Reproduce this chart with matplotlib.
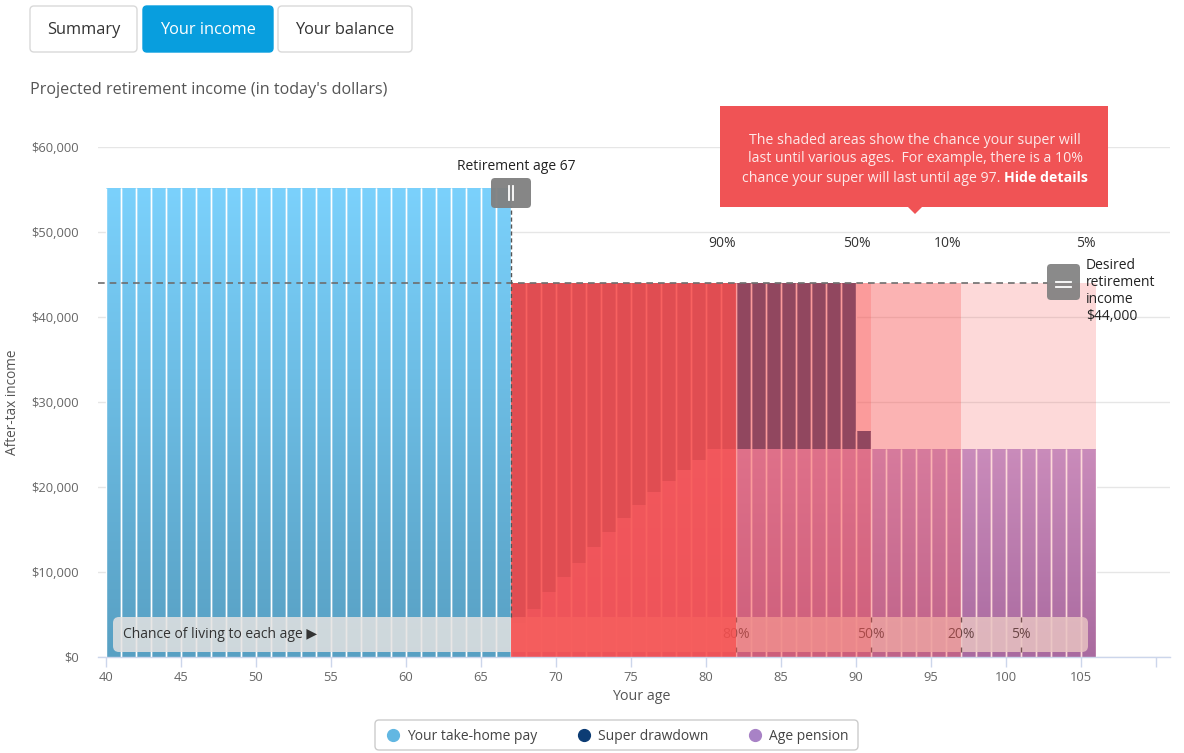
import numpy as np
import matplotlib
matplotlib.use("Agg")
import matplotlib.pyplot as plt
from matplotlib.patches import FancyBboxPatch, Polygon
from matplotlib.lines import Line2D
from matplotlib.path import Path
from matplotlib.colors import LinearSegmentedColormap
from matplotlib.ticker import FuncFormatter
from matplotlib.transforms import Affine2D

plt.rcParams['font.family'] = ['Open Sans', 'DejaVu Sans']

# ---------------- data ----------------
work_ages = [40, 41, 42, 43, 44, 45, 46, 47, 48, 49, 50, 51, 52, 53, 54, 55, 56,
             57, 58, 59, 60, 61, 62, 63, 64, 65, 66]
take_home_pay = [55200, 55200, 55200, 55200, 55200, 55200, 55200, 55200, 55200,
                 55200, 55200, 55200, 55200, 55200, 55200, 55200, 55200, 55200,
                 55200, 55200, 55200, 55200, 55200, 55200, 55200, 55200, 55200]

retire_ages = [67, 68, 69, 70, 71, 72, 73, 74, 75, 76, 77, 78, 79, 80, 81, 82, 83,
               84, 85, 86, 87, 88, 89, 90, 91, 92, 93, 94, 95, 96, 97, 98, 99, 100,
               101, 102, 103, 104, 105]
age_pension = [4000, 5700, 7600, 9400, 11100, 13000, 14700, 16400, 17900, 19400,
               20700, 22000, 23200, 24500, 24500, 24500, 24500, 24500, 24500, 24500,
               24500, 24500, 24500, 24500, 24500, 24500, 24500, 24500, 24500, 24500,
               24500, 24500, 24500, 24500, 24500, 24500, 24500, 24500, 24500]
super_drawdown = [40000, 38300, 36400, 34600, 32900, 31000, 29300, 27600, 26100,
                  24600, 23300, 22000, 20800, 19500, 19500, 19500, 19500, 19500,
                  19500, 19500, 19500, 19500, 19500, 2100, 0, 0, 0, 0, 0, 0, 0, 0,
                  0, 0, 0, 0, 0, 0, 0]

desired_income = 44000
retirement_age = 67
zone_edges = [67, 82, 91, 97, 106]
zone_labels = ['90%', '50%', '10%', '5%']
survival_ages = [82, 91, 97, 101]
survival_labels = ['80%', '50%', '20%', '5%']
y_ticks = [0, 10000, 20000, 30000, 40000, 50000, 60000]
x_ticks = [40, 45, 50, 55, 60, 65, 70, 75, 80, 85, 90, 95, 100, 105, 110]
legend_labels = ['Your take-home pay', 'Super drawdown', 'Age pension']
tab_labels = ['Summary', 'Your income', 'Your balance']

# ---------------- styling ----------------
W, H = 1184, 753
fig = plt.figure(figsize=(W / 100, H / 100), dpi=100)
fig.patch.set_facecolor('white')
pxT = Affine2D().scale(1, -1).translate(0, H)   # pixel coords from top-left


def fx(x):
    return x / W


def fy(y):
    return 1 - y / H


ax_l, ax_r, ax_t, ax_b = 98, 1170, 147, 657
ax = fig.add_axes([fx(ax_l), fy(ax_b), (ax_r - ax_l) / W, (ax_b - ax_t) / H])
XMIN = 40 - 8 / 15
XMAX = 40 + (ax_r - 106) / 15
ax.set_xlim(XMIN, XMAX)
ax.set_ylim(0, 60000)


def yd(py):
    return (ax_b - py) * 60000 / (ax_b - ax_t)


blue_c = '#62b7e2'
navy_c = '#0c3c74'
purple_c = '#a882c6'
red_ov = (248 / 255, 80 / 255, 79 / 255)

cm_blue = LinearSegmentedColormap.from_list('b', ['#58a0c3', '#7bd1fc'])
cm_purp = LinearSegmentedColormap.from_list('p', ['#9572b6', '#be9cd8'])

bars_pay = ax.bar(work_ages, take_home_pay, width=1, align='edge', color=blue_c,
                  lw=0, zorder=2)
bars_pen = ax.bar(retire_ages, age_pension, width=1, align='edge', color=purple_c,
                  lw=0, zorder=2)
bars_sd = ax.bar(retire_ages, super_drawdown, width=1, align='edge',
                 bottom=age_pension, color=navy_c, lw=0, zorder=2.1)


def gradient(bars, cmap, top):
    paths = [p.get_path().transformed(p.get_patch_transform()) for p in bars]
    cp = Path.make_compound_path(*paths)
    img = np.linspace(0, 1, 256).reshape(-1, 1)
    im = ax.imshow(img, extent=[XMIN, XMAX, 0, top], origin='lower', cmap=cmap,
                   aspect='auto', zorder=2.05, interpolation='bilinear')
    im.set_clip_path(cp, ax.transData)


gradient(bars_pay, cm_blue, max(take_home_pay))
gradient(bars_pen, cm_purp, max(age_pension))
ax.set_xlim(XMIN, XMAX)
ax.set_ylim(0, 60000)

# white separators between bars
for p_list in (bars_pay, bars_sd):
    for p in p_list:
        x0 = p.get_x()
        top = p.get_y() + p.get_height()
        ax.vlines([x0, x0 + p.get_width()], 0, top, color='white', lw=1.0,
                  zorder=2.4)

# chance-of-living box (under overlays)
box = FancyBboxPatch((113, 617), 975, 35, boxstyle='round,pad=0,rounding_size=6',
                     transform=pxT, facecolor=(0.895, 0.887, 0.882), alpha=0.85,
                     edgecolor='none', zorder=2.6)
ax.add_patch(box)
ax.text(40 + (123 - 106) / 15, yd(634), 'Chance of living to each age \u25B6',
        fontsize=10, color='#333333', va='center', ha='left', zorder=2.7,
        family=['Open Sans', 'DejaVu Sans'])
for a, lab in zip(survival_ages, survival_labels):
    ax.text(a, yd(634), lab, fontsize=10, color='#444444', ha='center',
            va='center', zorder=2.7)
    ax.vlines(a, yd(622), yd(617), color='#555555', lw=1, zorder=2.7)
    ax.vlines(a, yd(652), yd(647), color='#555555', lw=1, zorder=2.7)

# probability overlays
zone_alpha = [0.9, 0.57, 0.43, 0.21]
for i, lab in enumerate(zone_labels):
    x0, x1 = zone_edges[i], zone_edges[i + 1]
    ax.fill_between([x0, x1], 0, desired_income, color=red_ov,
                    alpha=zone_alpha[i], lw=0, zorder=3)
    ax.text(x1, yd(244), lab, fontsize=10, color='#333333', ha='right',
            va='center', zorder=5)

# reference lines
ax.axhline(desired_income, xmin=0, xmax=(1048 - ax_l) / (ax_r - ax_l),
           color='#6e6e6e', lw=1.2, ls=(0, (4, 3)), zorder=3.5)
ax.axvline(retirement_age, ymin=yd(617) / 60000, ymax=yd(206) / 60000,
           color='#555555', lw=1.0, ls=(0, (3, 2)), zorder=3.5)

# axes styling
for s in ('top', 'right', 'left'):
    ax.spines[s].set_visible(False)
ax.spines['bottom'].set_color('#ccd6eb')
ax.spines['bottom'].set_linewidth(1)
ax.spines['bottom'].set_zorder(3.6)
ax.set_xticks(x_ticks)
ax.set_xticklabels([str(t) if t <= 105 else '' for t in x_ticks])
ax.tick_params(axis='x', colors='#ccd6eb', length=7, width=1, pad=3,
               labelcolor='#666666', labelsize=9.3)
ax.set_yticks(y_ticks)
ax.yaxis.set_major_formatter(FuncFormatter(lambda v, p: '${:,.0f}'.format(v)))
ax.tick_params(axis='y', length=0, pad=14, labelcolor='#666666', labelsize=9.3)
ax.yaxis.grid(True, color='#e6e6e6', lw=1)
ax.set_axisbelow(True)

fig.text(fx(641), fy(696), 'Your age', fontsize=10.3, color='#555555',
         ha='center', va='center')
fig.text(fx(13), fy(402), 'After-tax income', fontsize=9.8, color='#555555',
         ha='center', va='center', rotation=90)

# retirement handle
fig.text(fx(516), fy(166), 'Retirement age 67', fontsize=10, color='#222222',
         ha='center', va='center')
fig.add_artist(FancyBboxPatch((491, 178), 40, 30,
                              boxstyle='round,pad=0,rounding_size=4',
                              transform=pxT, facecolor='#808080', alpha=0.95,
                              edgecolor='none', zorder=6))
for xx in (509, 513):
    fig.add_artist(Line2D([xx, xx], [186, 200], transform=pxT, color='white',
                          lw=1.3, zorder=7))

# desired handle
fig.add_artist(FancyBboxPatch((1047, 264), 33, 36,
                              boxstyle='round,pad=0,rounding_size=4',
                              transform=pxT, facecolor='#808080', alpha=0.92,
                              edgecolor='none', zorder=6))
for yy in (282, 287):
    fig.add_artist(Line2D([1056, 1071], [yy, yy], transform=pxT, color='white',
                          lw=1.3, zorder=7))
fig.text(fx(1086), fy(258), 'Desired\nretirement\nincome\n$44,000', fontsize=10,
         color='#222222', ha='left', va='top', linespacing=1.18, zorder=7)

# tooltip
tip_c = '#f05355'
fig.add_artist(Polygon([(720, 106), (1108, 106), (1108, 207), (922, 207),
                        (915, 214), (908, 207), (720, 207)], closed=True,
                       transform=pxT, facecolor=tip_c, edgecolor='none', zorder=8))
tcol = '#fde9e9'
tfs = 10.2
fig.text(fx(915), fy(140), 'The shaded areas show the chance your super will',
         fontsize=tfs, color=tcol, ha='center', va='center', zorder=9)
fig.text(fx(915), fy(159), 'last until various ages.  For example, there is a 10%',
         fontsize=tfs, color=tcol, ha='center', va='center', zorder=9)
t1 = fig.text(0, fy(178), 'chance your super will last until age 97. ',
              fontsize=tfs, color=tcol, ha='left', va='center', zorder=9)
t2 = fig.text(0, fy(178), 'Hide details', fontsize=tfs, color='white',
              fontweight='bold', ha='left', va='center', zorder=9)
r = fig.canvas.get_renderer()
w1 = t1.get_window_extent(r).width
w2 = t2.get_window_extent(r).width
start = 915 - (w1 + w2) / 2
t1.set_x(fx(start))
t2.set_x(fx(start + w1))

# tabs
tabs = [(30, 137), (143, 273), (278, 412)]
for (x0, x1), lab in zip(tabs, tab_labels):
    active = lab == 'Your income'
    fig.add_artist(FancyBboxPatch((x0, 6), x1 - x0, 46,
                                  boxstyle='round,pad=0,rounding_size=4',
                                  transform=pxT,
                                  facecolor='#089ede' if active else 'white',
                                  edgecolor='#089ede' if active else '#d9d9d9',
                                  lw=1))
    fig.text(fx((x0 + x1) / 2), fy(30.5), lab, fontsize=11.8,
             color='white' if active else '#333333', ha='center', va='center')

fig.text(fx(30), fy(90), "Projected retirement income (in today's dollars)",
         fontsize=11.6, color='#555555', ha='left', va='center')

# legend
fig.add_artist(FancyBboxPatch((375, 720), 483, 30,
                              boxstyle='round,pad=0,rounding_size=4',
                              transform=pxT, facecolor='white',
                              edgecolor='#cccccc', lw=1))
for (mx, tx), lab, col in zip([(393, 407), (584, 598), (755, 769)], legend_labels,
                              [blue_c, navy_c, purple_c]):
    fig.add_artist(Line2D([mx], [735], transform=pxT, marker='o', markersize=8.5,
                          color=col, lw=0))
    fig.text(fx(tx), fy(736), lab, fontsize=10, color='#444444', ha='left',
             va='center')

fig.savefig('out.png', dpi=100)
